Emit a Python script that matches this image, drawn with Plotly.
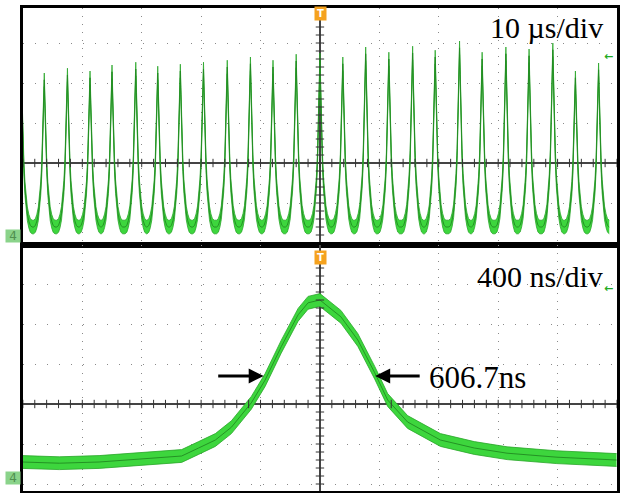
import numpy as np
import plotly.graph_objects as go

# ---------------- data ----------------
# Top panel: 10 us/div, pulse train. Peak times (us) and peak levels (div)
top_peak_times = [-50.25, -46.4, -42.5, -38.7, -35.0, -31.0, -27.3, -23.5, -19.6, -15.6,
                  -11.7, -7.9, -4.0, 0.0, 3.85, 7.7, 11.6, 15.6, 19.4, 23.5,
                  27.3, 31.3, 35.2, 39.2, 43.0, 46.9]
top_peak_levels = [2.08, 2.08, 2.2, 2.13, 2.28, 2.35, 2.25, 2.3, 2.35, 2.4,
                   2.48, 2.4, 2.55, 2.58, 2.48, 2.73, 2.6, 2.75, 2.65, 2.88,
                   2.6, 2.73, 2.68, 2.83, 2.13, 2.33]
top_baseline = -1.6
# single-pulse shape: time offset (us) vs fraction of height
pulse_offsets = [-1.8, -1.5, -1.25, -1.0, -0.8, -0.6, -0.42, -0.25, -0.1, 0.0,
                 0.1, 0.25, 0.42, 0.6, 0.8, 1.0, 1.25, 1.5, 1.8]
pulse_fraction = [0.0, 0.01, 0.04, 0.09, 0.16, 0.26, 0.4, 0.6, 0.85, 1.0,
                  0.85, 0.6, 0.4, 0.26, 0.16, 0.09, 0.04, 0.01, 0.0]
top_noise = 0.17   # half-width of the noise band (div)

# Bottom panel: 400 ns/div, single pulse
bot_time_ns = [-2003, -1755, -1487, -1152, -931, -817, -704, -596, -462, -369, -261,
               -147, -80, 0, 141, 255, 369, 456, 590, 811, 1039, 1260, 1595, 1997]
bot_level = [-1.45, -1.48, -1.45, -1.35, -1.3, -1.1, -0.9, -0.58, 0.03, 0.6, 1.43,
             2.23, 2.53, 2.6, 2.18, 1.6, 0.78, 0.1, -0.45, -0.9, -1.1, -1.23, -1.33, -1.4]
bot_noise = 0.16

top_label = "10 µs/div"
bot_label = "400 ns/div"
fwhm_label = "606.7ns"

# ---------------- build top trace from peaks ----------------
tt, ty = [], []
for tp, hp in zip(top_peak_times, top_peak_levels):
    for off, fr in zip(pulse_offsets, pulse_fraction):
        tt.append(tp + off)
        ty.append(top_baseline + (hp - top_baseline) * fr)
order = np.argsort(tt, kind="stable")
tt = np.array(tt)[order]
ty = np.array(ty)[order]

bt = np.array(bot_time_ns, dtype=float)
by = np.array(bot_level, dtype=float)

W, H = 620, 493
x_dom = [23 / W, 1.0]
top_dom = [(H - 245) / H, (H - 8) / H]
bot_dom = [(H - 491) / H, (H - 245) / H]

BRIGHT = "#3dd63d"
EDGE = "#2aa62a"
DARK = "#218a21"

fig = go.Figure()


def add_band(x, y, a, xa, ya):
    fig.add_trace(go.Scatter(x=x, y=y - a, mode="lines", line=dict(color=EDGE, width=0.8),
                             xaxis=xa, yaxis=ya, showlegend=False, hoverinfo="skip"))
    fig.add_trace(go.Scatter(x=x, y=y + a, mode="lines", line=dict(color=EDGE, width=0.8),
                             fill="tonexty", fillcolor=BRIGHT,
                             xaxis=xa, yaxis=ya, showlegend=False, hoverinfo="skip"))
    fig.add_trace(go.Scatter(x=x, y=y, mode="lines", line=dict(color=DARK, width=0.9),
                             xaxis=xa, yaxis=ya, showlegend=False, hoverinfo="skip"))


add_band(tt, ty, top_noise, "x", "y")
add_band(bt, by, bot_noise, "x2", "y2")


# small tick marks along the centre cross-hair lines
def center_ticks(xmin, xmax, xstep, ymin, ymax, ystep, xa, ya):
    xs = np.arange(xmin, xmax + 1e-9, xstep)
    ys = np.arange(ymin, ymax + 1e-9, ystep)
    fig.add_trace(go.Scatter(x=xs, y=np.zeros_like(xs), mode="markers",
                             marker=dict(symbol="line-ns", size=6, line=dict(color="#333", width=1)),
                             xaxis=xa, yaxis=ya, showlegend=False, hoverinfo="skip"))
    fig.add_trace(go.Scatter(x=np.zeros_like(ys), y=ys, mode="markers",
                             marker=dict(symbol="line-ew", size=6, line=dict(color="#333", width=1)),
                             xaxis=xa, yaxis=ya, showlegend=False, hoverinfo="skip"))


center_ticks(-50, 50, 2, -2.0, 3.8, 0.2, "x", "y")
center_ticks(-2000, 2000, 80, -2.0, 3.8, 0.2, "x2", "y2")

axis_common = dict(showticklabels=False, showgrid=True, gridcolor="#8a8a8a", gridwidth=1,
                   zeroline=True, zerolinecolor="#444", zerolinewidth=1.5,
                   showline=True, linecolor="black", linewidth=3, mirror=True,
                   ticks="", fixedrange=True)

fig.update_layout(
    width=W, height=H, margin=dict(l=0, r=0, t=0, b=0),
    paper_bgcolor="white", plot_bgcolor="white", showlegend=False,
    xaxis=dict(domain=x_dom, range=[-50, 50], dtick=10, tick0=0, anchor="y",
               griddash="1px,7px", **axis_common),
    yaxis=dict(domain=top_dom, range=[-2.05, 3.875], dtick=1, tick0=0, anchor="x",
               griddash="1px,11px", **axis_common),
    xaxis2=dict(domain=x_dom, range=[-2000, 2000], dtick=400, tick0=0, anchor="y2",
                griddash="1px,7px", **axis_common),
    yaxis2=dict(domain=bot_dom, range=[-2.175, 3.975], dtick=1, tick0=0, anchor="x2",
                griddash="1px,11px", **axis_common),
)


def px(xp, yp):
    return xp / W, 1 - yp / H


ann = []
serif = "Liberation Serif, Times New Roman, serif"
x0, y0 = px(608, 28)
ann.append(dict(x=x0, y=y0, xref="paper", yref="paper", text=top_label, showarrow=False,
                xanchor="right", yanchor="middle", font=dict(family=serif, size=30, color="black")))
x0, y0 = px(608, 276)
ann.append(dict(x=x0, y=y0, xref="paper", yref="paper", text=bot_label, showarrow=False,
                xanchor="right", yanchor="middle", font=dict(family=serif, size=30, color="black")))
x0, y0 = px(429, 377)
ann.append(dict(x=x0, y=y0, xref="paper", yref="paper", text=fwhm_label, showarrow=False,
                xanchor="left", yanchor="middle", font=dict(family=serif, size=31, color="black")))
# FWHM arrows
x0, y0 = px(265, 376)
ann.append(dict(x=x0, y=y0, xref="paper", yref="paper", text="", showarrow=True,
                ax=-47, ay=0, axref="pixel", ayref="pixel", arrowhead=2, arrowsize=1,
                arrowwidth=3, arrowcolor="black"))
x0, y0 = px(377, 376)
ann.append(dict(x=x0, y=y0, xref="paper", yref="paper", text="", showarrow=True,
                ax=46, ay=0, axref="pixel", ayref="pixel", arrowhead=2, arrowsize=1,
                arrowwidth=3, arrowcolor="black"))
# trigger tags
for (xp, yp) in [(322, 14), (322, 257)]:
    x0, y0 = px(xp, yp)
    ann.append(dict(x=x0, y=y0, xref="paper", yref="paper", text="<b>T</b>", showarrow=False,
                    bgcolor="#f5a21e", borderpad=0, width=11, height=13,
                    font=dict(family="DejaVu Sans", size=10, color="white"),
                    xanchor="center", yanchor="middle"))
# channel 4 tags
for (xp, yp) in [(13, 236), (13, 478)]:
    x0, y0 = px(xp, yp)
    ann.append(dict(x=x0, y=y0, xref="paper", yref="paper", text="4", showarrow=False,
                    bgcolor="#8ad38a", borderpad=0, width=14, height=12,
                    font=dict(family="DejaVu Sans", size=12, color="#4f8f4f"),
                    xanchor="center", yanchor="middle"))
# trigger level arrows at right
for (xp, yp) in [(611, 57), (611, 288)]:
    x0, y0 = px(xp, yp)
    ann.append(dict(x=x0, y=y0, xref="paper", yref="paper", text="<b>←</b>", showarrow=False,
                    font=dict(family="DejaVu Sans", size=11, color="#22aa22"),
                    xanchor="center", yanchor="middle"))
fig.update_layout(annotations=ann)

fig.write_html("out.html", config={"displayModeBar": False},
               post_script="document.body.style.margin='0';")
